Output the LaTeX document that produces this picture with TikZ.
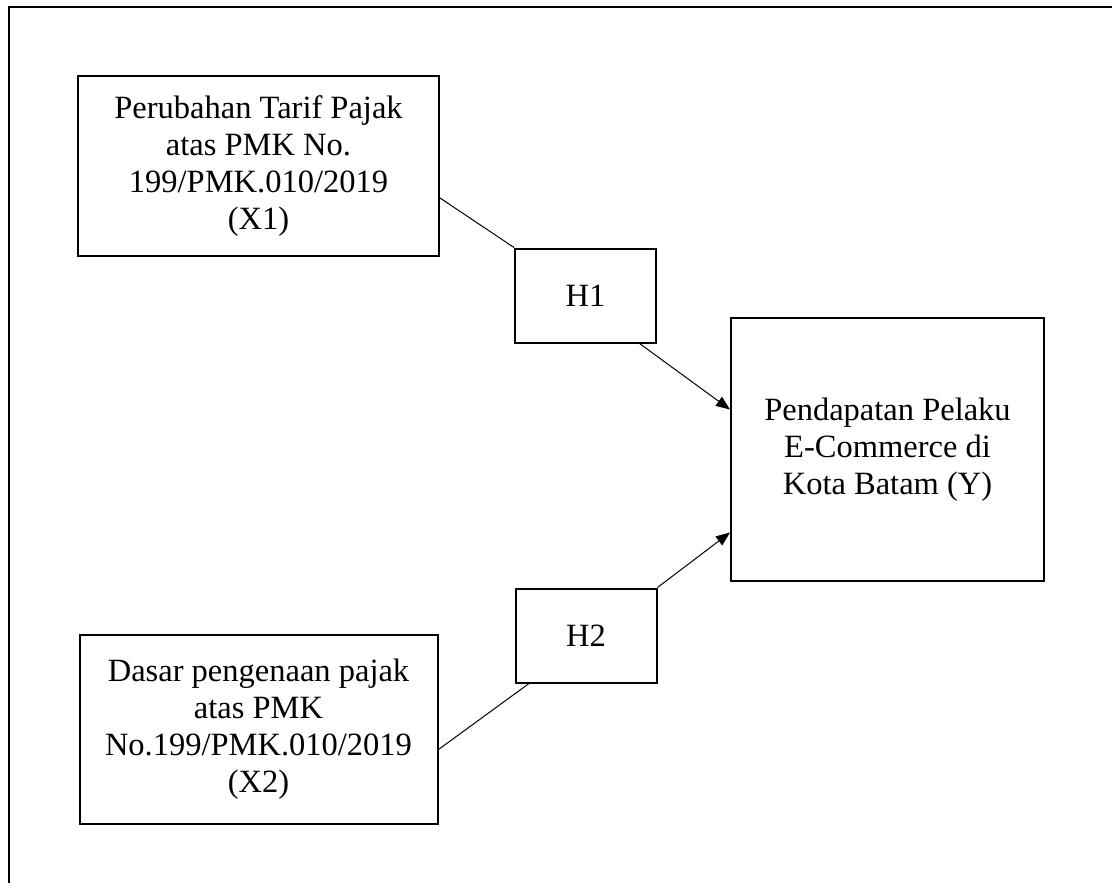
\documentclass[tikz,border=0pt]{standalone}
\usepackage{fontspec}
\setmainfont{Liberation Serif}
\usepackage{tikz}
\usetikzlibrary{arrows.meta, positioning}

\begin{document}
\begin{tikzpicture}[
    x=1pt, y=-1pt,
    var/.style={draw, line width=2pt, align=center, inner sep=0pt,
                font=\fontsize{32.5pt}{37pt}\selectfont},
    hyp/.style={var, minimum width=141pt, minimum height=94pt},
    lnk/.style={line width=1pt},
    arr/.style={lnk, -{Triangle[length=14pt, width=11pt]}},
]
\useasboundingbox (0,0) rectangle (1112,883);
\draw[line width=2.4pt] (1112,7) -- (9,7) -- (9,883);

\node[var, minimum width=361pt, minimum height=180pt] (x1) at (258.5,166)
    {Perubahan Tarif Pajak\\atas PMK No.\\199/PMK.010/2019\\(X1)};
\node[var, minimum width=358pt, minimum height=189pt, below=377pt of x1] (x2)
    {Dasar pengenaan pajak\\atas PMK\\No.199/PMK.010/2019\\(X2)};
\node[hyp, right=74pt of x1, yshift=-129.5pt] (h1) {H1};
\node[hyp, right=76pt of x2, yshift=94pt] (h2) {H2};
\node[var, minimum width=313pt, minimum height=263pt, right=73pt of h1, yshift=-154pt] (y)
    {Pendapatan Pelaku\\E-Commerce di\\Kota Batam (Y)};

\draw[lnk] ([yshift=-32pt]x1.east) -- (h1.north west);
\draw[arr] ([xshift=54pt]h1.south) -- ([yshift=40pt]y.west);
\draw[lnk] ([yshift=-20pt]x2.east) -- ([xshift=-57pt]h2.south);
\draw[arr] (h2.north east) -- ([yshift=-83pt]y.west);
\end{tikzpicture}
\end{document}
